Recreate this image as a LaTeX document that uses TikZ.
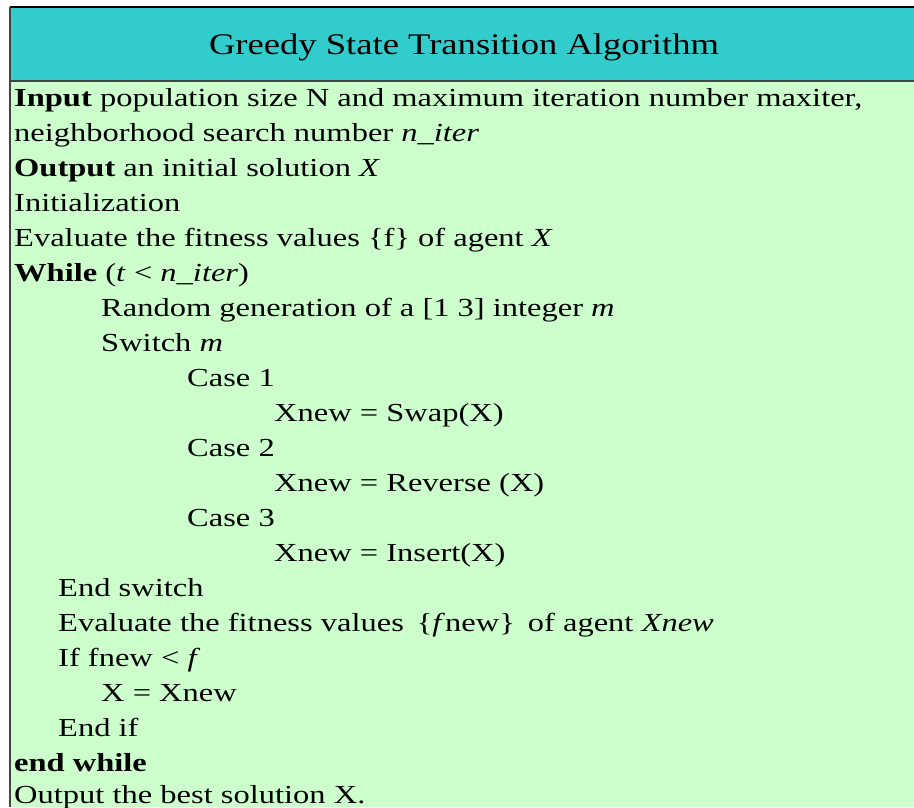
\documentclass[tikz,border=0pt]{standalone}
\usepackage{fontspec}
\setmainfont{Liberation Serif}
\definecolor{headteal}{HTML}{33CCCC}
\definecolor{bodygreen}{HTML}{CCFFCC}
\definecolor{rulegray}{HTML}{444444}
\newcommand{\widetxt}[1]{\scalebox{1.25}[1]{#1}}
\newcommand{\widettl}[1]{\scalebox{1.22}[1]{#1}}
\begin{document}
\begin{tikzpicture}[x=1pt,y=-1pt,
  ln/.style={anchor=base west,inner sep=0pt,font=\fontsize{26}{30}\selectfont},
  ttl/.style={anchor=base,inner sep=0pt,font=\fontsize{30}{34}\selectfont}]
\useasboundingbox (0,0) rectangle (914,807);
\fill[white] (0,0) rectangle (914,807);
\fill[headteal] (10,7) rectangle (914,81);
\fill[bodygreen] (10,81) rectangle (914,807);
\draw[black,line width=1.2pt] (10,7) -- (914,7);
\draw[rulegray,line width=1.2pt] (10,81) -- (914,81);
\draw[rulegray,line width=1.5pt] (10,7) -- (10,807);
\node[ttl] (title) at (464,54) {\widettl{Greedy State Transition Algorithm}};
\node[ln] (l0) at (14,106) {\widetxt{\textbf{Input} population size N and maximum iteration number maxiter,}};
\node[ln] (l1) at (14,141) {\widetxt{neighborhood search number \textit{n\_iter}}};
\node[ln] (l2) at (14,176) {\widetxt{\textbf{Output} an initial solution \textit{X}}};
\node[ln] (l3) at (14,211) {\widetxt{Initialization}};
\node[ln] (l4) at (14,246) {\widetxt{Evaluate the fitness values \{f\} of agent \textit{X}}};
\node[ln] (l5) at (14,281) {\widetxt{\textbf{While} (\textit{t} < \textit{n\_iter})}};
\node[ln] (l6) at (101,316) {\widetxt{Random generation of a [1 3] integer \textit{m}}};
\node[ln] (l7) at (101,351) {\widetxt{Switch \textit{m}}};
\node[ln] (l8) at (187,386) {\widetxt{Case 1}};
\node[ln] (l9) at (274,421) {\widetxt{Xnew = Swap(X)}};
\node[ln] (l10) at (187,456) {\widetxt{Case 2}};
\node[ln] (l11) at (274,491) {\widetxt{Xnew = Reverse (X)}};
\node[ln] (l12) at (187,526) {\widetxt{Case 3}};
\node[ln] (l13) at (274,561) {\widetxt{Xnew = Insert(X)}};
\node[ln] (l14) at (58,596) {\widetxt{End switch}};
\node[ln] (l15) at (58,631) {\widetxt{Evaluate the fitness values\hspace{0.4em}\{\textit{f}new\}\hspace{0.4em}of agent \textit{Xnew}}};
\node[ln] (l16) at (58,666) {\widetxt{If fnew < \textit{f}}};
\node[ln] (l17) at (101,701) {\widetxt{X = Xnew}};
\node[ln] (l18) at (58,736) {\widetxt{End if}};
\node[ln] (l19) at (14,771) {\widetxt{\textbf{end while}}};
\node[ln] (l20) at (14,803) {\widetxt{Output the best solution X.}};
\end{tikzpicture}
\end{document}
